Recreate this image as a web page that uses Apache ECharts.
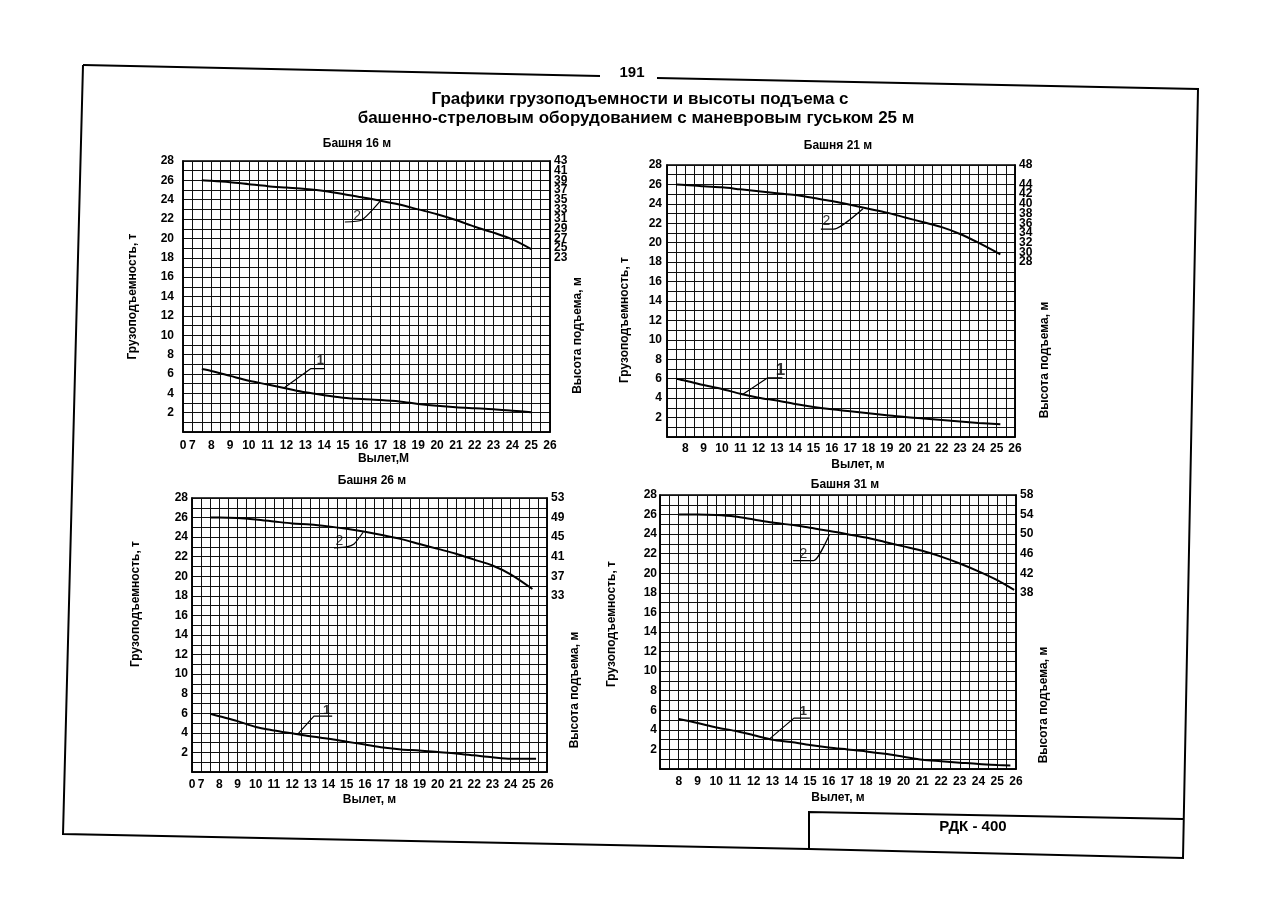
<!DOCTYPE html>
<html><head><meta charset="utf-8">
<script src="https://cdn.jsdelivr.net/npm/echarts@6/dist/echarts.min.js"></script>
<style>html,body{margin:0;padding:0;background:#fff}#c{width:1276px;height:906px}</style>
</head><body><div id="c"></div>
<script>
// ---------- DATA ----------
const towers = ['Башня 16 м', 'Башня 21 м', 'Башня 26 м', 'Башня 31 м'];
const loadTicks = [2, 4, 6, 8, 10, 12, 14, 16, 18, 20, 22, 24, 26, 28];

// Tower 16 m
const reach16 = [7.5, 8, 9, 10, 11, 12, 13, 14, 15, 16, 17, 18, 19, 20, 21, 22, 23, 24, 25];
const load16 = [6.5, 6.3, 5.8, 5.3, 4.9, 4.5, 4.1, 3.8, 3.55, 3.4, 3.3, 3.15, 2.9, 2.7, 2.55, 2.45, 2.35, 2.2, 2.05];
const hook16 = [39, 38.9, 38.6, 38.2, 37.8, 37.5, 37.2, 36.8, 36.2, 35.5, 34.8, 34, 33, 32, 30.8, 29.4, 28.2, 26.8, 24.8];
const heightTicks16 = [23, 25, 27, 29, 31, 33, 35, 37, 39, 41, 43];
const leader16a = [[11.9, 4.6], [13.3, 6.55], [14.0, 6.55]];
const leader16b = [[17.0, 23.9], [16.0, 21.9], [15.1, 21.7]];
const note16a = [13.8, 7.4];
const note16b = [15.75, 22.3];

// Tower 21 m
const reach21 = [7.5, 8, 9, 10, 11, 12, 13, 14, 15, 16, 17, 18, 19, 20, 21, 22, 23, 24, 25.2];
const load21 = [6.0, 5.8, 5.35, 4.95, 4.45, 4.05, 3.75, 3.4, 3.1, 2.85, 2.65, 2.45, 2.25, 2.05, 1.9, 1.75, 1.6, 1.45, 1.3];
const hook21 = [44, 43.9, 43.6, 43.4, 43.0, 42.6, 42.2, 41.8, 41.2, 40.6, 39.8, 39.0, 38.2, 37.2, 36.2, 35.2, 33.8, 32.0, 29.6];
const heightTicks21 = [28, 30, 32, 34, 36, 38, 40, 42, 44, 46, 48];
const leader21a = [[11.1, 4.35], [12.5, 6.1], [13.3, 6.1]];
const leader21b = [[17.7, 23.5], [16.1, 21.4], [15.4, 21.4]];
const note21a = [13.2, 6.9];
const note21b = [15.7, 22.2];

// Tower 26 m
const reach26 = [7.5, 8, 9, 10, 11, 12, 13, 14, 15, 16, 17, 18, 19, 20, 21, 22, 23, 24, 25.4];
const load26 = [5.95, 5.7, 5.2, 4.6, 4.25, 3.95, 3.65, 3.4, 3.1, 2.8, 2.5, 2.3, 2.2, 2.05, 1.9, 1.7, 1.5, 1.35, 1.35];
const reachHook26 = [7.5, 8, 9, 10, 11, 12, 13, 14, 15, 16, 17, 18, 19, 20, 21, 22, 23, 24, 25.2];
const hook26 = [49, 49, 48.9, 48.6, 48.2, 47.8, 47.6, 47.2, 46.7, 46.1, 45.4, 44.6, 43.6, 42.6, 41.6, 40.4, 39.2, 37.4, 34.4];
const heightTicks26 = [33, 37, 41, 45, 49, 53];
const leader26a = [[12.3, 3.85], [13.2, 5.7], [14.2, 5.7]];
const leader26b = [[15.9, 24.5], [15.4, 23.3], [15.0, 23.0], [14.3, 22.9]];
const note26a = [13.9, 6.3];
const note26b = [14.6, 23.6];

// Tower 31 m
const reach31 = [8, 9, 10, 11, 12, 13, 14, 15, 16, 17, 18, 19, 20, 21, 22, 23, 24, 25, 25.7];
const load31 = [5.1, 4.7, 4.25, 3.9, 3.45, 3.0, 2.75, 2.45, 2.2, 2.0, 1.8, 1.55, 1.25, 0.95, 0.8, 0.65, 0.5, 0.4, 0.35];
const reachHook31 = [8, 9, 10, 11, 12, 13, 14, 15, 16, 17, 18, 19, 20, 21, 22, 23, 24, 25, 25.9];
const hook31 = [54, 54, 53.9, 53.6, 53.0, 52.4, 51.9, 51.3, 50.7, 50.0, 49.3, 48.4, 47.5, 46.6, 45.4, 44.0, 42.4, 40.6, 38.6];
const heightTicks31 = [38, 42, 46, 50, 54, 58];
const leader31a = [[12.8, 3.0], [14.15, 5.2], [15.0, 5.2]];
const leader31b = [[16.05, 24.0], [15.2, 21.3], [14.1, 21.3]];
const note31a = [14.65, 5.9];
const note31b = [14.65, 21.95];

// ---------- LAYOUT ----------
const FONT = "'Liberation Sans Narrow','Liberation Sans',Arial,sans-serif";
const FONT2 = "'Liberation Sans',Arial,sans-serif";
const zip = (xs, ys) => xs.map((x, i) => [x, ys[i]]);

const panels = [
  { title: towers[0], tx: 357, ty: 144, grid: { left: 183, top: 161, width: 367, height: 271 },
    xMin: 6.5, xMax: 26, xFirst: 7, zero: true, xName: 'Вылет,М', xGap: 20, xPad: [0, 0, 0, 34], xMargin: 8,
    yGap: 44, yPad: [0, 0, 0, 0], yMargin: 9,
    rMin: -13, rMax: 43, rInt: 1, rTicks: heightTicks16, rGap: 14, rPad: [0, 78, 0, 0],
    load: zip(reach16, load16), hook: zip(reach16, hook16), la: leader16a, lb: leader16b, na: note16a, nb: note16b, naSize: 13 },
  { title: towers[1], tx: 838, ty: 146, grid: { left: 667, top: 165, width: 348, height: 272 },
    xMin: 7, xMax: 26, xFirst: 8, zero: false, xName: 'Вылет, м', xGap: 22, xPad: [0, 0, 0, 34], xMargin: 6,
    yGap: 36, yPad: [0, 38, 0, 0], yMargin: 5,
    rMin: -8, rMax: 48, rInt: 2, rTicks: heightTicks21, rGap: 24, rPad: [0, 118, 0, 0],
    load: zip(reach21, load21), hook: zip(reach21, hook21), la: leader21a, lb: leader21b, na: note21a, nb: note21b, naSize: 17 },
  { title: towers[2], tx: 372, ty: 481, grid: { left: 192, top: 498, width: 355, height: 274 },
    xMin: 6.5, xMax: 26, xFirst: 7, zero: true, xName: 'Вылет, м', xGap: 22, xPad: [0, 0, 0, 0], xMargin: 7,
    yGap: 50, yPad: [0, 0, 0, 62], yMargin: 4,
    rMin: -3, rMax: 53, rInt: 1, rTicks: heightTicks26, rGap: 14, rPad: [0, 110, 0, 0],
    load: zip(reach26, load26), hook: zip(reachHook26, hook26), la: leader26a, lb: leader26b, na: note26a, nb: note26b, naSize: 13 },
  { title: towers[3], tx: 845, ty: 485, grid: { left: 660, top: 495, width: 356, height: 274 },
    xMin: 7, xMax: 26, xFirst: 8, zero: false, xName: 'Вылет, м', xGap: 23, xPad: [0, 0, 0, 0], xMargin: 7,
    yGap: 42, yPad: [0, 0, 0, 16], yMargin: 3,
    rMin: 2, rMax: 58, rInt: 2, rTicks: heightTicks31, rGap: 16, rPad: [0, 146, 0, 0],
    load: zip(reach31, load31), hook: zip(reachHook31, hook31), la: leader31a, lb: leader31b, na: note31a, nb: note31b, naSize: 13 }
];

const grid = [], xAxis = [], yAxis = [], series = [];
const tickStyle = { color: '#000', fontFamily: FONT, fontWeight: 'bold', fontSize: 12 };
const nameStyle = { color: '#000', fontFamily: FONT2, fontWeight: 'bold', fontSize: 12 };

panels.forEach((p, i) => {
  grid.push(Object.assign({ show: true, borderColor: '#000', borderWidth: 1.6, backgroundColor: 'transparent', containLabel: false }, p.grid));
  xAxis.push({
    gridIndex: i, type: 'value', min: p.xMin, max: p.xMax, interval: 0.5,
    name: p.xName, nameLocation: 'middle', nameGap: p.xGap,
    nameTextStyle: Object.assign({}, nameStyle, { padding: p.xPad }),
    axisLine: { show: true, lineStyle: { color: '#000', width: 1.6 } },
    axisTick: { show: false },
    splitLine: { show: true, lineStyle: { color: '#111', width: 1 } },
    axisLabel: Object.assign({}, tickStyle, {
      margin: p.xMargin, showMinLabel: true, showMaxLabel: true,
      formatter: v => (p.zero && v === p.xMin) ? '0' : ((Number.isInteger(v) && v >= p.xFirst) ? String(v) : '')
    })
  });
  yAxis.push({
    gridIndex: i, type: 'value', min: 0, max: 28, interval: 1, position: 'left',
    name: 'Грузоподъемность, т', nameLocation: 'middle', nameGap: p.yGap,
    nameTextStyle: Object.assign({}, nameStyle, { padding: p.yPad }),
    axisLine: { show: true, lineStyle: { color: '#000', width: 1.6 } },
    axisTick: { show: false },
    splitLine: { show: true, lineStyle: { color: '#111', width: 1 } },
    axisLabel: Object.assign({}, tickStyle, { margin: p.yMargin, formatter: v => loadTicks.includes(v) ? String(v) : '' })
  });
  yAxis.push({
    gridIndex: i, type: 'value', min: p.rMin, max: p.rMax, interval: p.rInt, position: 'right',
    name: 'Высота подъема, м', nameLocation: 'middle', nameGap: p.rGap,
    nameTextStyle: Object.assign({}, nameStyle, { padding: p.rPad }),
    axisLine: { show: true, lineStyle: { color: '#000', width: 1.6 } },
    axisTick: { show: false },
    splitLine: { show: false },
    axisLabel: Object.assign({}, tickStyle, { margin: 4, showMinLabel: true, showMaxLabel: true, formatter: v => p.rTicks.includes(v) ? String(v) : '' })
  });
  const base = { type: 'line', xAxisIndex: i, showSymbol: false, symbol: 'none', silent: true, z: 5 };
  series.push(Object.assign({}, base, { name: 'load' + i, yAxisIndex: 2 * i, data: p.load, smooth: 0.3, lineStyle: { color: '#000', width: 2 } }));
  series.push(Object.assign({}, base, { name: 'hook' + i, yAxisIndex: 2 * i + 1, data: p.hook, smooth: 0.3, lineStyle: { color: '#000', width: 2 } }));
  series.push(Object.assign({}, base, { yAxisIndex: 2 * i, data: p.la, lineStyle: { color: '#000', width: 1.2 } }));
  series.push(Object.assign({}, base, { yAxisIndex: 2 * i, data: p.lb, smooth: 0.2, lineStyle: { color: '#000', width: 1.2 } }));
  const noteBase = { type: 'scatter', xAxisIndex: i, yAxisIndex: 2 * i, symbolSize: 0, silent: true, z: 6, itemStyle: { color: 'rgba(0,0,0,0)' } };
  series.push(Object.assign({}, noteBase, { data: [p.na], label: { show: true, position: 'inside', formatter: '1', color: '#000', fontFamily: FONT2, fontWeight: 'bold', fontSize: p.naSize } }));
  series.push(Object.assign({}, noteBase, { data: [p.nb], label: { show: true, position: 'inside', formatter: '2', color: '#000', fontFamily: FONT2, fontWeight: 'normal', fontSize: 14 } }));
});

const txt = (x, y, text, size, weight, align) => ({
  type: 'text', x: x, y: y, silent: true,
  style: { text: text, fill: '#000', fontFamily: FONT2, fontSize: size, fontWeight: weight || 'bold', textAlign: align || 'center', textVerticalAlign: 'middle' }
});
const ln = (pts, w) => ({ type: 'polyline', silent: true, shape: { points: pts }, style: { stroke: '#000', lineWidth: w || 2, fill: null } });

const graphic = [
  ln([[83, 65], [600, 76]]),
  ln([[657, 78], [1198, 89], [1183, 858], [809, 849], [63, 834], [83, 65]]),
  ln([[809, 849], [809, 812], [1183, 819]]),
  txt(632, 73, '191', 15),
  txt(640, 99, 'Графики грузоподъемности и высоты подъема с', 17),
  txt(636, 118, 'башенно-стреловым оборудованием с маневровым гуськом 25 м', 17),
  txt(973, 827, 'РДК - 400', 15)
].concat(panels.map(p => txt(p.tx, p.ty, p.title, 12)));

const chart = echarts.init(document.getElementById('c'), null, { renderer: 'canvas' });
chart.setOption({ animation: false, backgroundColor: '#fff', grid, xAxis, yAxis, series, graphic });
</script></body></html>
